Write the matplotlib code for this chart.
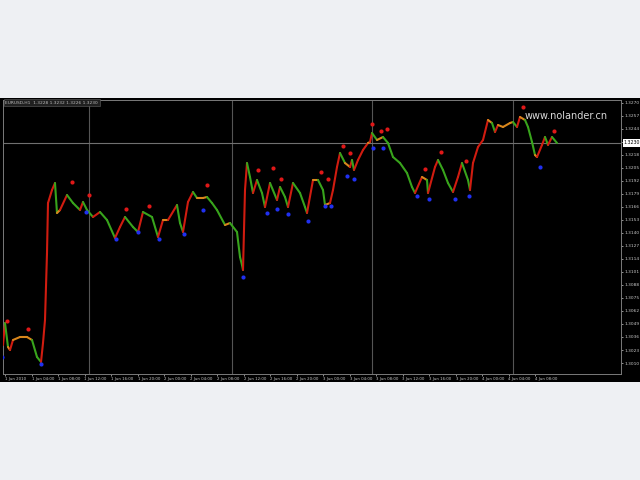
import matplotlib
matplotlib.use("Agg")
import matplotlib.pyplot as plt
from matplotlib.collections import LineCollection
from matplotlib.patches import Rectangle
import numpy as np

# ---- data (bar position, close price) ----
bar_x = [3, 5, 8, 10, 13, 20, 27, 32, 37, 41, 43, 45, 47, 48, 52, 55, 57, 60, 67, 73,
         80, 83, 87, 93, 100, 107, 115, 120, 125, 133, 138, 143, 152, 158, 163, 168, 177, 180, 183, 188,
         193, 197, 203, 207, 212, 217, 225, 230, 237, 240, 242, 243, 245, 247, 250, 253, 257, 262, 265, 270,
         277, 280, 285, 288, 293, 300, 305, 307, 313, 318, 323, 325, 330, 333, 337, 340, 345, 350, 352, 354,
         358, 363, 368, 370, 372, 377, 383, 388, 393, 400, 407, 412, 415, 422, 427, 428, 435, 438, 443, 448,
         453, 458, 462, 468, 470, 473, 478, 483, 488, 492, 495, 498, 503, 510, 513, 517, 520, 525, 528, 532,
         535, 537, 542, 545, 548, 552, 557]
close = [1.3028, 1.3050, 1.3026, 1.3023, 1.3033, 1.3036, 1.3036, 1.3033, 1.3016, 1.3011,
         1.3030, 1.3053, 1.3120, 1.3170, 1.3183, 1.3190, 1.3160, 1.3163, 1.3178, 1.3170,
         1.3163, 1.3171, 1.3163, 1.3156, 1.3161, 1.3153, 1.3135, 1.3146, 1.3156, 1.3146,
         1.3141, 1.3161, 1.3156, 1.3136, 1.3153, 1.3153, 1.3168, 1.3150, 1.3141, 1.3171,
         1.3181, 1.3175, 1.3175, 1.3176, 1.3170, 1.3163, 1.3148, 1.3150, 1.3141, 1.3116,
         1.3108, 1.3103, 1.3183, 1.3210, 1.3196, 1.3180, 1.3193, 1.3180, 1.3166, 1.3190,
         1.3173, 1.3186, 1.3176, 1.3166, 1.3190, 1.3180, 1.3166, 1.3160, 1.3193, 1.3193,
         1.3183, 1.3168, 1.3170, 1.3183, 1.3206, 1.3220, 1.3210, 1.3206, 1.3213, 1.3203,
         1.3213, 1.3223, 1.3230, 1.3231, 1.3240, 1.3233, 1.3236, 1.3230, 1.3216, 1.3210,
         1.3200, 1.3186, 1.3180, 1.3196, 1.3193, 1.3180, 1.3206, 1.3213, 1.3203, 1.3190,
         1.3181, 1.3196, 1.3210, 1.3193, 1.3183, 1.3210, 1.3226, 1.3233, 1.3253, 1.3250,
         1.3241, 1.3248, 1.3246, 1.3250, 1.3251, 1.3246, 1.3256, 1.3253, 1.3246, 1.3231,
         1.3218, 1.3216, 1.3228, 1.3236, 1.3228, 1.3236, 1.3230]

peak_x = [7, 28, 72, 89, 126, 149, 207, 258, 273, 281, 321, 328, 343, 350, 372, 381, 387, 425, 441, 466, 523, 554]
peak_y = [1.3052, 1.3044, 1.3191, 1.3178, 1.3164, 1.3167, 1.3188, 1.3203, 1.3205, 1.3194, 1.3201, 1.3194,
          1.3227, 1.3220, 1.3249, 1.3242, 1.3244, 1.3204, 1.3221, 1.3212, 1.3266, 1.3242]
trough_x = [2, 41, 86, 116, 138, 159, 184, 203, 243, 267, 277, 288, 308, 325, 331, 347, 354, 373, 383, 417, 429, 455, 469, 540]
trough_y = [1.3016, 1.3009, 1.3161, 1.3134, 1.3141, 1.3134, 1.3139, 1.3163, 1.3096, 1.3160, 1.3164, 1.3159,
            1.3152, 1.3167, 1.3167, 1.3197, 1.3194, 1.3225, 1.3225, 1.3177, 1.3174, 1.3174, 1.3177, 1.3206]

separators = [89, 232, 372, 513]
time_labels = ["1 Jun 2010", "1 Jun 04:00", "1 Jun 08:00", "1 Jun 12:00", "1 Jun 16:00", "1 Jun 20:00",
               "2 Jun 00:00", "2 Jun 04:00", "2 Jun 08:00", "2 Jun 12:00", "2 Jun 16:00", "2 Jun 20:00",
               "3 Jun 00:00", "3 Jun 04:00", "3 Jun 08:00", "3 Jun 12:00", "3 Jun 16:00", "3 Jun 20:00",
               "4 Jun 00:00", "4 Jun 04:00", "4 Jun 08:00"]
header = "EURUSD,H1  1.3228 1.3232 1.3226 1.3230"
watermark = "www.nolander.cn"

# ---- figure ----
W, H = 640, 480
fig = plt.figure(figsize=(6.4, 4.8), dpi=100, facecolor="#eef0f3")
# screenshot background
fig.patches.append(Rectangle((0, (H - 382) / H), 1, 284 / H, transform=fig.transFigure,
                             facecolor="black", edgecolor="none", zorder=-5))

ax = fig.add_axes([3 / W, (H - 374) / H, 618 / W, 274 / H])
ax.set_zorder(2)
ax.set_facecolor("black")
ax.set_xlim(3, 621)
ax.set_ylim(1.2999, 1.3273)

for s in ax.spines.values():
    s.set_color("#7a7a7a")
    s.set_linewidth(0.7)

# separators / bid line
for sx in separators:
    ax.axvline(sx, color="#555555", lw=0.8, zorder=1)
ax.axhline(close[-1], color="#707070", lw=0.8, zorder=1)

# coloured close line
pts = np.column_stack([bar_x, close])
segs = np.stack([pts[:-1], pts[1:]], axis=1)
cols = []
for a, b in zip(close[:-1], close[1:]):
    d = b - a
    if abs(d) <= 0.00045:
        cols.append("#d8861c")
    elif d > 0:
        cols.append("#d01c10")
    else:
        cols.append("#38a41c")
lc = LineCollection(segs, colors=cols, linewidths=1.5, capstyle="round", joinstyle="round", zorder=3)
ax.add_collection(lc)

ax.scatter(peak_x, peak_y, s=9, color="#e01818", zorder=4, linewidths=0)
ax.scatter(trough_x, trough_y, s=9, color="#2030f0", zorder=4, linewidths=0)

# right price scale
ax.yaxis.tick_right()
yt = np.arange(1.3010, 1.3272, 0.0013)
ax.set_yticks(yt)
ax.set_yticklabels([f"{v:.4f}" for v in yt])
ax.tick_params(axis="y", colors="#c8c8c8", labelsize=3.2, length=1.5, width=0.5, pad=1)
ax.annotate(f"{close[-1]:.4f}", xy=(1.0, close[-1]), xycoords=("axes fraction", "data"),
            xytext=(2, 0), textcoords="offset points", fontsize=3.4, color="black",
            va="center", ha="left",
            bbox=dict(boxstyle="square,pad=0.25", facecolor="white", edgecolor="none"))

# bottom time scale
xt = np.arange(5, 560, 26.5)[:len(time_labels)]
ax.set_xticks(xt)
ax.set_xticklabels(time_labels[:len(xt)], ha="left")
ax.tick_params(axis="x", colors="#c8c8c8", labelsize=2.8, length=1.5, width=0.5, pad=1)

# header text and watermark
ax.text(0.004, 0.997, header, transform=ax.transAxes, fontsize=3.2, color="#bbbbbb",
        va="top", ha="left",
        bbox=dict(boxstyle="square,pad=0.3", facecolor="#202020", edgecolor="#606060", lw=0.4))
ax.text(566, 1.3257, watermark, fontsize=7, color="#d8d8d8", ha="center", va="center", zorder=5)

fig.savefig("out.png", dpi=100, facecolor=fig.get_facecolor())
